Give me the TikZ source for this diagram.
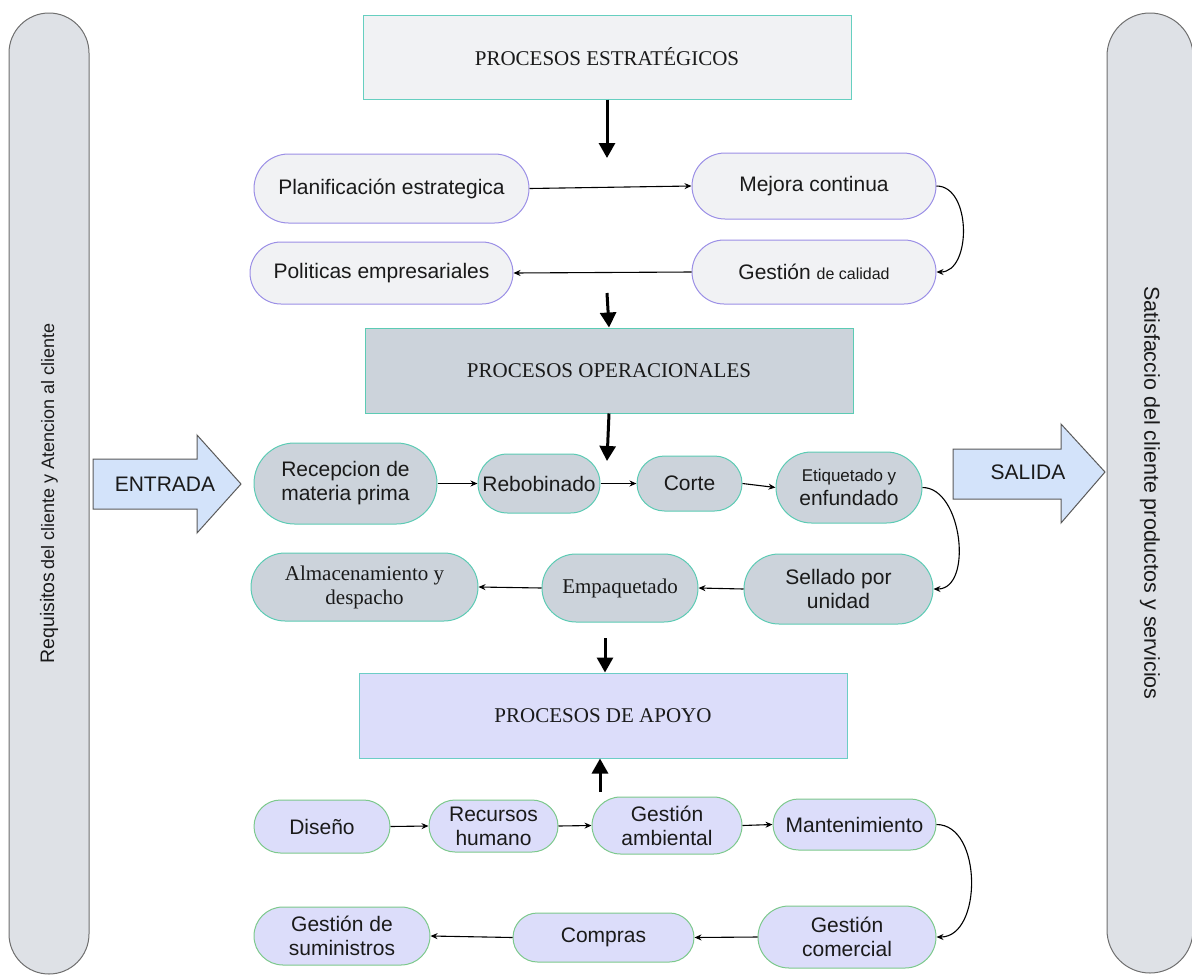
\documentclass[tikz,border=0pt]{standalone}
\usepackage{fontspec}
\setmainfont{Liberation Serif}
\setsansfont{Liberation Sans}
\usetikzlibrary{shapes.misc,arrows.meta}
\definecolor{stratfill}{HTML}{F1F2F4}
\definecolor{tealb}{HTML}{66CFC0}
\definecolor{purpb}{HTML}{9B8FE6}
\definecolor{opfill}{HTML}{CCD3DB}
\definecolor{opb}{HTML}{5CCBB4}
\definecolor{apfill}{HTML}{DCDDFA}
\definecolor{apb}{HTML}{6CCDC6}
\definecolor{greenb}{HTML}{7CC98C}
\definecolor{barfill}{HTML}{DEE1E6}
\definecolor{barb}{HTML}{6F6F6F}
\definecolor{arrfill}{HTML}{D3E3FA}
\definecolor{arrb}{HTML}{5A5A5A}
\definecolor{txt}{HTML}{1A1A1A}
\begin{document}
\begin{tikzpicture}[x=1pt,y=-1pt,
  hdr/.style={draw=tealb, line width=1pt, inner sep=0pt, font=\rmfamily\fontsize{21}{24}\selectfont, text=txt},
  pill/.style={shape=rounded rectangle, line width=1pt, inner sep=0pt, align=center, font=\sffamily\fontsize{21}{24}\selectfont, text=txt},
  strpill/.style={pill, draw=purpb, fill=stratfill},
  oppill/.style={pill, draw=opb, fill=opfill},
  appill/.style={pill, draw=greenb, fill=apfill},
  thin/.style={line width=1.1pt, -{Stealth[length=7pt,width=6pt]}},
  thick/.style={line width=3pt, -{Triangle[length=15pt,width=16pt]}},
  bar/.style={draw=barb, fill=barfill, line width=1pt, inner sep=0pt, text=txt, font=\sffamily},
  blockarrow/.style={draw=arrb, fill=arrfill, line width=1pt},
  btext/.style={font=\sffamily\fontsize{21}{24}\selectfont, text=txt, inner sep=0pt}
]
\useasboundingbox (0,0) rectangle (1192,975);

% side bars
\node[bar, rotate=90, rounded corners=40pt, minimum width=961pt, minimum height=80pt] (req) at (49,493.5)
  {{\fontsize{19.5}{22}\selectfont Requisitos} {\fontsize{18}{22}\selectfont del cliente y Atencion al cliente}};
\node[bar, rotate=-90, rounded corners=43pt, minimum width=960pt, minimum height=86pt] (sat) at (1150,493)
  {\fontsize{21.5}{24}\selectfont Satisfaccio del cliente productos y servicios};

% header boxes
\node[hdr, fill=stratfill, minimum width=488pt, minimum height=84pt] (strat) at (607,57) {PROCESOS ESTRATÉGICOS};
\node[hdr, fill=opfill, draw=opb, minimum width=488pt, minimum height=85pt] (opbox) at (609,370.5) {PROCESOS OPERACIONALES};
\node[hdr, fill=apfill, draw=apb, minimum width=488pt, minimum height=85pt] (apoyo) at (603,715.5) {PROCESOS DE APOYO};

% strategic pills
\node[strpill, minimum width=275pt, minimum height=69pt] (plan) at (391.5,188.5) {Planificación estrategica};
\node[strpill, minimum width=244pt, minimum height=66pt] (mejora) at (814,186) {Mejora continua};
\node[strpill, minimum width=244pt, minimum height=64pt] (gcal) at (814,272) {Gestión {\fontsize{16}{24}\selectfont de calidad}};
\node[strpill, minimum width=263pt, minimum height=62pt] (polit) at (381.5,273) {Politicas empresariales};

% operational pills
\node[oppill, minimum width=183pt, minimum height=81pt] (recep) at (345.5,483.5) {Recepcion de\\materia prima};
\node[oppill, minimum width=122pt, minimum height=59pt] (rebob) at (539,483.5) {Rebobinado};
\node[oppill, minimum width=105pt, minimum height=55pt] (corte) at (689.5,483.5) {Corte};
\node[oppill, minimum width=146pt, minimum height=71pt] (etiq) at (849,487.5) {{\fontsize{17}{22}\selectfont Etiquetado y}\\enfundado};
\node[oppill, minimum width=189pt, minimum height=70pt] (sell) at (838.5,589) {Sellado por\\unidad};
\node[oppill, font=\rmfamily\fontsize{21}{24}\selectfont, minimum width=156pt, minimum height=68pt] (empaq) at (620,588) {Empaquetado};
\node[oppill, font=\rmfamily\fontsize{21}{24}\selectfont, minimum width=227pt, minimum height=68pt] (almac) at (364.5,587) {Almacenamiento y\\despacho};

% support pills
\node[appill, minimum width=136pt, minimum height=53pt] (diseno) at (322,826.5) {Diseño};
\node[appill, minimum width=129pt, minimum height=52pt] (recur) at (493.5,826) {Recursos\\humano};
\node[appill, minimum width=150pt, minimum height=57pt] (gamb) at (667,825.5) {Gestión\\ambiental};
\node[appill, minimum width=163pt, minimum height=51pt] (mant) at (854.5,824.5) {Mantenimiento};
\node[appill, minimum width=178pt, minimum height=62pt] (gcom) at (847,937) {Gestión\\comercial};
\node[appill, minimum width=181pt, minimum height=49pt] (compras) at (603.5,937.5) {Compras};
\node[appill, minimum width=176pt, minimum height=58pt] (gsum) at (342,936) {Gestión de\\suministros};

% block arrows
\draw[blockarrow] (93,459) -- (197,459) -- (197,435) -- (241,484) -- (197,533) -- (197,509) -- (93,509) -- cycle;
\node[btext] (entrada) at (165,484) {ENTRADA};
\draw[blockarrow] (953,449) -- (1061,449) -- (1061,424) -- (1105,472) -- (1061,523) -- (1061,499) -- (953,499) -- cycle;
\node[btext] (salida) at (1028,472) {SALIDA};

% free ends of thick arrows
\coordinate (t1) at (607,158);
\coordinate (t2) at (607,293);
\coordinate (t3) at (607,461);
\coordinate (t4) at (605,638);
\coordinate (t5) at (600,792);

% thick arrows
\draw[thick] (strat.south) -- (t1);
\draw[thick] (t2) -- (opbox.north);
\draw[thick] (opbox.south) -- (t3);
\draw[thick] (t4) -- (t4 |- apoyo.north);
\draw[thick] (t5) -- (t5 |- apoyo.south);

% thin connectors
\draw[thin] (plan.east) -- (mejora.west);
\draw[thin] (mejora.east) to[out=0,in=0,looseness=1.05] (gcal.east);
\draw[thin] (gcal.west) -- (polit.east);

\draw[thin] (recep.east) -- (rebob.west);
\draw[thin] (rebob.east) -- (corte.west);
\draw[thin] (corte.east) -- (etiq.west);
\draw[thin] (etiq.east) to[out=0,in=0,looseness=1.0] (sell.east);
\draw[thin] (sell.west) -- (empaq.east);
\draw[thin] (empaq.west) -- (almac.east);

\draw[thin] (diseno.east) -- (recur.west);
\draw[thin] (recur.east) -- (gamb.west);
\draw[thin] (gamb.east) -- (mant.west);
\draw[thin] (mant.east) to[out=0,in=0,looseness=1.05] (gcom.east);
\draw[thin] (gcom.west) -- (compras.east);
\draw[thin] (compras.west) -- (gsum.east);
\end{tikzpicture}
\end{document}
